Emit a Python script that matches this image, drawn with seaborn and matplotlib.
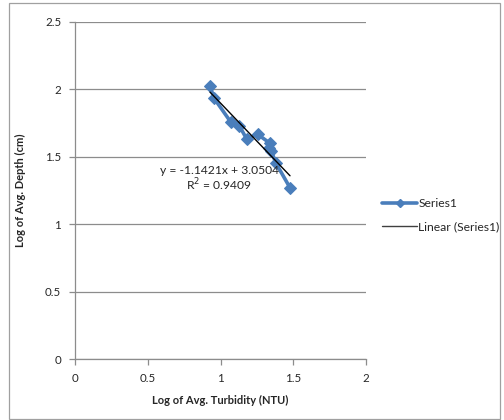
import numpy as np
import pandas as pd
import matplotlib
matplotlib.use('Agg')
import matplotlib.pyplot as plt
import seaborn as sns
from matplotlib.patches import Rectangle
from matplotlib.lines import Line2D

# Data (log10 values)
turbidity = [0.928, 0.955, 1.072, 1.130, 1.180, 1.255, 1.340, 1.333, 1.350, 1.380, 1.478]
depth = [2.025, 1.935, 1.755, 1.728, 1.632, 1.667, 1.600, 1.562, 1.540, 1.455, 1.270]
eq_text = "y = -1.1421x + 3.0504"
r2_text = "R$^2$ = 0.9409"

df = pd.DataFrame({'turbidity': turbidity, 'depth': depth})

sns.set_style('white')
plt.rcParams['font.family'] = ['Lato', 'DejaVu Sans']

fig = plt.figure(figsize=(5.04, 4.2), dpi=100)
ax = fig.add_axes([0.149, 0.145, 0.577, 0.803])

blue = '#4A7EBB'
sns.lineplot(data=df, x='turbidity', y='depth', sort=False, color=blue, lw=2.6,
             marker='D', markersize=6.5, markeredgecolor=blue, ax=ax)
sns.regplot(data=df, x='turbidity', y='depth', scatter=False, ci=None, truncate=True,
            color='black', line_kws={'lw': 1.0}, ax=ax)

ax.set_xlim(0, 2)
ax.set_ylim(0, 2.5)
ax.set_xticks([0, 0.5, 1, 1.5, 2])
ax.set_xticklabels(['0', '0.5', '1', '1.5', '2'])
ax.set_yticks([0, 0.5, 1, 1.5, 2, 2.5])
ax.set_yticklabels(['0', '0.5', '1', '1.5', '2', '2.5'])
ax.yaxis.grid(True, color='#8c8c8c', lw=0.9)
ax.xaxis.grid(False)
for s in ['top', 'right']:
    ax.spines[s].set_visible(False)
for s in ['left', 'bottom']:
    ax.spines[s].set_color('#8c8c8c')
    ax.spines[s].set_linewidth(0.9)
ax.tick_params(axis='both', length=4, width=0.9, color='#8c8c8c', labelsize=8.3,
               direction='out', bottom=True, left=True, pad=6)

ax.set_xlabel('Log of Avg. Turbidity (NTU)', fontsize=8, fontweight='bold', labelpad=8)
ax.set_ylabel('Log of Avg. Depth (cm)', fontsize=8, fontweight='bold', labelpad=14)

ax.text(0.99, 1.40, eq_text, fontsize=8.7, ha='center', va='center')
ax.text(0.99, 1.29, r2_text, fontsize=8.7, ha='center', va='center')

handles = [Line2D([], [], color=blue, lw=2.6, marker='D', markersize=4),
           Line2D([], [], color='#404040', lw=1.0)]
fig.legend(handles, ['Series1', 'Linear (Series1)'], loc='center left',
           bbox_to_anchor=(0.758, 0.488), frameon=False, fontsize=8.7,
           handlelength=2.9, handletextpad=0.1, labelspacing=1.0,
           borderaxespad=0, borderpad=0)

fig.patches.append(Rectangle((0.018, 0.003), 0.975, 0.99, transform=fig.transFigure,
                             fill=False, edgecolor='#a0a0a0', lw=0.9))

fig.savefig('out.png', dpi=100)
